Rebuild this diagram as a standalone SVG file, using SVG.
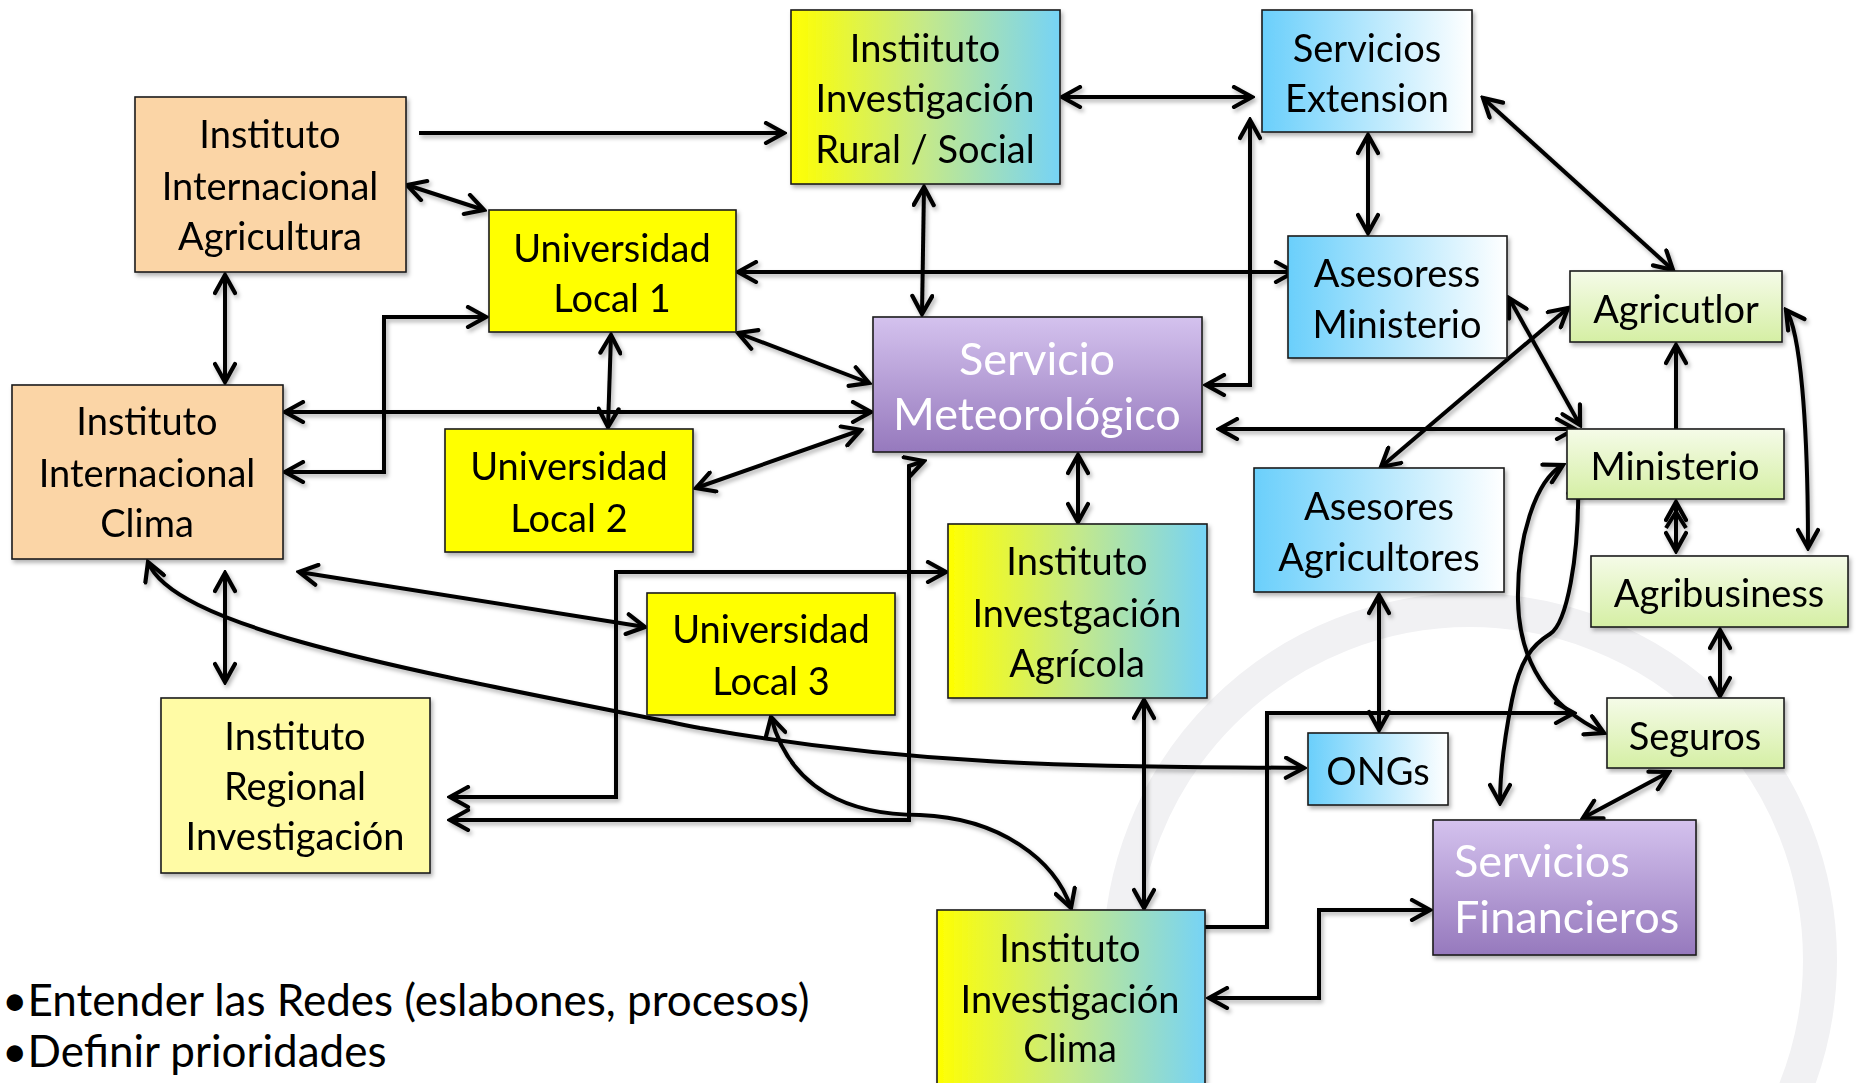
<svg xmlns="http://www.w3.org/2000/svg" width="1860" height="1083" viewBox="0 0 1860 1083">
<defs>
<style>
.bx{stroke:#1c1c1c;stroke-width:1.6}
.t{font-family:Lato,'Liberation Sans',sans-serif;font-size:38px;fill:#000;text-anchor:middle}
.tw{font-family:Lato,'Liberation Sans',sans-serif;font-size:45px;fill:#fff;text-anchor:middle}
.c path{fill:none;stroke:#000;stroke-width:4;stroke-linejoin:miter;marker-start:url(#ah);marker-end:url(#ah)}
.c path.one{marker-start:none}
.c path.none{marker-start:none;marker-end:none}
.wm{fill:none;stroke:#f1f1f3}
</style>
<marker id="ah" viewBox="0 0 24 24" refX="21" refY="12" markerWidth="24" markerHeight="24" markerUnits="userSpaceOnUse" orient="auto-start-reverse">
<path d="M3 2 L21 12 L3 22" fill="none" stroke="#000" stroke-width="4.2" stroke-linecap="round" stroke-linejoin="miter"/>
</marker>
<linearGradient id="yb" x1="0" y1="0" x2="1" y2="0">
<stop offset="0" stop-color="#ffff00"/><stop offset="0.5" stop-color="#c4e98a"/><stop offset="1" stop-color="#76d3f6"/>
</linearGradient>
<linearGradient id="bw" x1="0" y1="0" x2="1" y2="0">
<stop offset="0" stop-color="#6acffb"/><stop offset="1" stop-color="#ffffff"/>
</linearGradient>
<linearGradient id="gr" x1="0" y1="0" x2="0" y2="1">
<stop offset="0" stop-color="#f5fbe8"/><stop offset="1" stop-color="#d5efa4"/>
</linearGradient>
<linearGradient id="pu" x1="0" y1="0" x2="0" y2="1">
<stop offset="0" stop-color="#d4c2ee"/><stop offset="1" stop-color="#9679bd"/>
</linearGradient>
<filter id="sh" x="-5%" y="-5%" width="115%" height="115%">
<feDropShadow dx="2" dy="3" stdDeviation="2" flood-color="#000" flood-opacity="0.3"/>
</filter>
</defs>
<rect width="1860" height="1083" fill="#fff"/>
<g id="watermark">
<circle class="wm" cx="1470" cy="960" r="350" stroke-width="34"/>
</g>
<g id="connectors" class="c" filter="url(#sh)">
<path class="one" d="M419 133 L784 133"/>
<path d="M407 185 L484 210"/>
<path d="M225 275 L225 382"/>
<path d="M1062 97 L1252 97"/>
<path d="M924 187 L922 314"/>
<path d="M738 272 L1294 272"/>
<path d="M738 333 L869 383"/>
<path d="M1206 385 L1250 385 L1250 120"/>
<path d="M1368 135 L1368 233"/>
<path d="M1483 98 L1673 270"/>
<path d="M1786 310 C1800 330 1808 420 1808 548"/>
<path class="one" d="M1676 429 L1676 345"/>
<path d="M1568 308 L1381 467"/>
<path d="M1509 298 L1580 425"/>
<path d="M1219 429 L1575 429"/>
<path d="M285 412 L871 412"/>
<path d="M285 472 L384 472 L384 317 L486 317"/>
<path d="M611 335 L608 427"/>
<path d="M696 488 L861 430"/>
<path d="M1078 455 L1078 522"/>
<path d="M299 572 L645 627"/>
<path d="M225 573 L225 682"/>
<path d="M148 562 C175 630 420 672 700 728 C950 772 1150 766 1304 768"/>
<path d="M1379 595 L1379 730"/>
<path d="M450 797 L616 797 L616 572 L946 572"/>
<path d="M450 820 L909 820 L909 466 L924 461"/>
<path d="M771 717 C790 790 850 815 920 815 C1000 818 1055 860 1071 908"/>
<path d="M1144 700 L1144 908"/>
<path d="M1145 927 L1267 927 L1267 713 L1574 713"/>
<path d="M1209 998 L1319 998 L1319 910 L1430 910"/>
<path d="M1669 772 L1583 818"/>
<path d="M1563 465 C1535 480 1517 540 1518 600 C1519 660 1545 705 1604 733"/>
<path d="M1578 475 C1580 560 1566 624 1550 634 C1532 645 1520 660 1512 700 C1503 745 1500 780 1500 803"/>
<path d="M1720 630 L1720 696"/>
<path d="M1676 502 L1676 551"/>
<path class="none" d="M1666 528 L1676 512 L1686 528"/>
</g>
<g id="n-iia" filter="url(#sh)"><rect class="bx" x="135" y="97" width="271" height="175" fill="#fbd5a6"/>
<text class="t"><tspan x="270" y="148">Instituto</tspan><tspan x="270" y="200">Internacional</tspan><tspan x="270" y="250">Agricultura</tspan></text></g>
<g id="n-iirs" filter="url(#sh)"><rect class="bx" x="791" y="10" width="269" height="174" fill="url(#yb)"/>
<text class="t"><tspan x="925" y="62">Instiituto</tspan><tspan x="925" y="112">Investigación</tspan><tspan x="925" y="163">Rural / Social</tspan></text></g>
<g id="n-se" filter="url(#sh)"><rect class="bx" x="1262" y="10" width="210" height="122" fill="url(#bw)"/>
<text class="t"><tspan x="1367" y="62">Servicios</tspan><tspan x="1367" y="112">Extension</tspan></text></g>
<g id="n-ul1" filter="url(#sh)"><rect class="bx" x="489" y="210" width="247" height="122" fill="#ffff00"/>
<text class="t"><tspan x="612" y="262">Universidad</tspan><tspan x="612" y="312">Local 1</tspan></text></g>
<g id="n-am" filter="url(#sh)"><rect class="bx" x="1288" y="236" width="219" height="122" fill="url(#bw)"/>
<text class="t"><tspan x="1397" y="287">Asesoress</tspan><tspan x="1397" y="338">Ministerio</tspan></text></g>
<g id="n-agr" filter="url(#sh)"><rect class="bx" x="1570" y="271" width="212" height="71" fill="url(#gr)"/>
<text class="t" x="1676" y="323">Agricutlor</text></g>
<g id="n-met" filter="url(#sh)"><rect class="bx" x="873" y="317" width="329" height="135" fill="url(#pu)"/>
<text class="tw"><tspan x="1037" y="375">Servicio</tspan><tspan x="1037" y="430">Meteorológico</tspan></text></g>
<g id="n-iic" filter="url(#sh)"><rect class="bx" x="12" y="385" width="271" height="174" fill="#fbd5a6"/>
<text class="t"><tspan x="147" y="435">Instituto</tspan><tspan x="147" y="487">Internacional</tspan><tspan x="147" y="537">Clima</tspan></text></g>
<g id="n-ul2" filter="url(#sh)"><rect class="bx" x="445" y="429" width="248" height="123" fill="#ffff00"/>
<text class="t"><tspan x="569" y="480">Universidad</tspan><tspan x="569" y="532">Local 2</tspan></text></g>
<g id="n-min" filter="url(#sh)"><rect class="bx" x="1567" y="429" width="217" height="70" fill="url(#gr)"/>
<text class="t" x="1675" y="480">Ministerio</text></g>
<g id="n-aa" filter="url(#sh)"><rect class="bx" x="1254" y="468" width="250" height="124" fill="url(#bw)"/>
<text class="t"><tspan x="1379" y="520">Asesores</tspan><tspan x="1379" y="571">Agricultores</tspan></text></g>
<g id="n-iiag" filter="url(#sh)"><rect class="bx" x="948" y="524" width="259" height="174" fill="url(#yb)"/>
<text class="t"><tspan x="1077" y="575">Instituto</tspan><tspan x="1077" y="627">Investgación</tspan><tspan x="1077" y="677">Agrícola</tspan></text></g>
<g id="n-agb" filter="url(#sh)"><rect class="bx" x="1591" y="556" width="257" height="71" fill="url(#gr)"/>
<text class="t" x="1719" y="607">Agribusiness</text></g>
<g id="n-ul3" filter="url(#sh)"><rect class="bx" x="647" y="593" width="248" height="122" fill="#ffff00"/>
<text class="t"><tspan x="771" y="643">Universidad</tspan><tspan x="771" y="695">Local 3</tspan></text></g>
<g id="n-iri" filter="url(#sh)"><rect class="bx" x="161" y="698" width="269" height="175" fill="#fffba5"/>
<text class="t"><tspan x="295" y="750">Instituto</tspan><tspan x="295" y="800">Regional</tspan><tspan x="295" y="850">Investigación</tspan></text></g>
<g id="n-ong" filter="url(#sh)"><rect class="bx" x="1308" y="733" width="140" height="72" fill="url(#bw)"/>
<text class="t" x="1378" y="785">ONGs</text></g>
<g id="n-seg" filter="url(#sh)"><rect class="bx" x="1607" y="698" width="177" height="70" fill="url(#gr)"/>
<text class="t" x="1695" y="750">Seguros</text></g>
<g id="n-sf" filter="url(#sh)"><rect class="bx" x="1433" y="820" width="263" height="135" fill="url(#pu)"/>
<text class="tw" style="text-anchor:start"><tspan x="1454" y="877">Servicios</tspan><tspan x="1454" y="933">Financieros</tspan></text></g>
<g id="n-iicl" filter="url(#sh)"><rect class="bx" x="937" y="910" width="268" height="180" fill="url(#yb)"/>
<text class="t"><tspan x="1070" y="962">Instituto</tspan><tspan x="1070" y="1013">Investigación</tspan><tspan x="1070" y="1062">Clima</tspan></text></g>
<g id="notes">
<text font-family="Lato,'Liberation Sans',sans-serif" font-size="44" fill="#000"><tspan x="2" y="1016">•Entender las Redes (eslabones, procesos)</tspan><tspan x="2" y="1067">•Definir prioridades</tspan></text>
</g>
</svg>
